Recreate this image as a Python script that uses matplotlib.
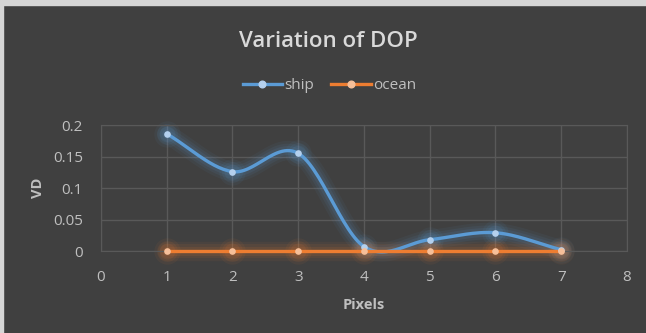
import numpy as np
import matplotlib
matplotlib.use("Agg")
import matplotlib.pyplot as plt
from matplotlib.patches import Rectangle

pixels = [1, 2, 3, 4, 5, 6, 7]
ship = [0.186, 0.126, 0.155, 0.007, 0.018, 0.029, 0.002]
ocean = [0, 0, 0, 0, 0, 0, 0]

BG = "#404040"
GRID = "#595959"
TXT = "#d9d9d9"
LBL = "#bfbfbf"


def smooth(x, y, n=30):
    """Catmull-Rom curve through the points, like Excel's smoothed line."""
    x = np.asarray(x, float)
    y = np.asarray(y, float)
    px = np.concatenate([[2 * x[0] - x[1]], x, [2 * x[-1] - x[-2]]])
    py = np.concatenate([[2 * y[0] - y[1]], y, [2 * y[-1] - y[-2]]])
    xs, ys = [], []
    t = np.linspace(0, 1, n)
    for i in range(1, len(px) - 2):
        for p, out in ((px, xs), (py, ys)):
            p0, p1, p2, p3 = p[i - 1], p[i], p[i + 1], p[i + 2]
            out.extend(0.5 * ((2 * p1) + (-p0 + p2) * t
                              + (2 * p0 - 5 * p1 + 4 * p2 - p3) * t ** 2
                              + (-p0 + 3 * p1 - 3 * p2 + p3) * t ** 3))
    return np.array(xs), np.array(ys)


plt.rcParams['font.family'] = ['Open Sans', 'DejaVu Sans']

fig = plt.figure(figsize=(6.46, 3.33), dpi=100, facecolor=BG)
ax = fig.add_axes([0.1563, 0.2462, 0.8143, 0.3784], facecolor=BG)

# light frame along top and left edge
fig.patches.append(Rectangle((0, 1 - 5 / 333), 1, 5 / 333, transform=fig.transFigure,
                             color="#d6d6d6", zorder=-1))
fig.patches.append(Rectangle((0, 0), 3 / 646, 1, transform=fig.transFigure,
                             color="#d6d6d6", zorder=-1))

series = [
    (ship, "ship", "#5b9bd5", "#b4d0ee"),
    (ocean, "ocean", "#ed7d31", "#f6bf99"),
]

for vals, name, col, mcol in series:
    sx, sy = smooth(pixels, vals)
    # soft glow under the line
    for w, a in ((14, 0.06), (10, 0.08), (6.5, 0.10)):
        ax.plot(sx, sy, color=col, lw=w, alpha=a, solid_capstyle='round',
                zorder=2, clip_on=False)
        ax.plot(pixels, vals, 'o', color=col, ms=w + 5, alpha=a, mew=0,
                zorder=2, clip_on=False)
    ax.plot(sx, sy, color=col, lw=2.4, solid_capstyle='round', zorder=3, clip_on=False)
    ax.plot(pixels, vals, 'o', color=mcol, ms=4.8, mew=0, zorder=4, clip_on=False)

# legend proxies
handles = [plt.Line2D([], [], color=c, lw=2.4, marker='o', ms=4.8, mfc=m, mec=m)
           for _, _, c, m in series]
fig.legend(handles, [s[1] for s in series], loc='center', ncol=2,
           bbox_to_anchor=(0.51, 1 - 86 / 333), frameon=False, fontsize=11,
           labelcolor=LBL, handlelength=2.6, handletextpad=0.15, columnspacing=1.1,
           borderpad=0, borderaxespad=0)

ax.set_xlim(0, 8)
ax.set_ylim(0, 0.2)
ax.set_xticks(range(0, 9))
ax.set_yticks([0, 0.05, 0.1, 0.15, 0.2])
ax.set_yticklabels(["0", "0.05", "0.1", "0.15", "0.2"])
ax.grid(True, color=GRID, lw=1)
ax.set_axisbelow(True)
for s in ax.spines.values():
    s.set_color(GRID)
ax.tick_params(colors=LBL, labelsize=11, length=0)
ax.tick_params(axis='x', pad=14)
ax.tick_params(axis='y', pad=13)

ax.set_xlabel("Pixels", color=LBL, fontsize=10.5, fontweight='bold', labelpad=9)
ax.set_ylabel("VD", color=LBL, fontsize=10.5, fontweight='bold', labelpad=6)

fig.text(0.509, 1 - 47 / 333, "Variation of DOP", ha='center', va='baseline',
         color=TXT, fontsize=16, fontweight='semibold')

fig.savefig("out.png", dpi=100, facecolor=BG)
